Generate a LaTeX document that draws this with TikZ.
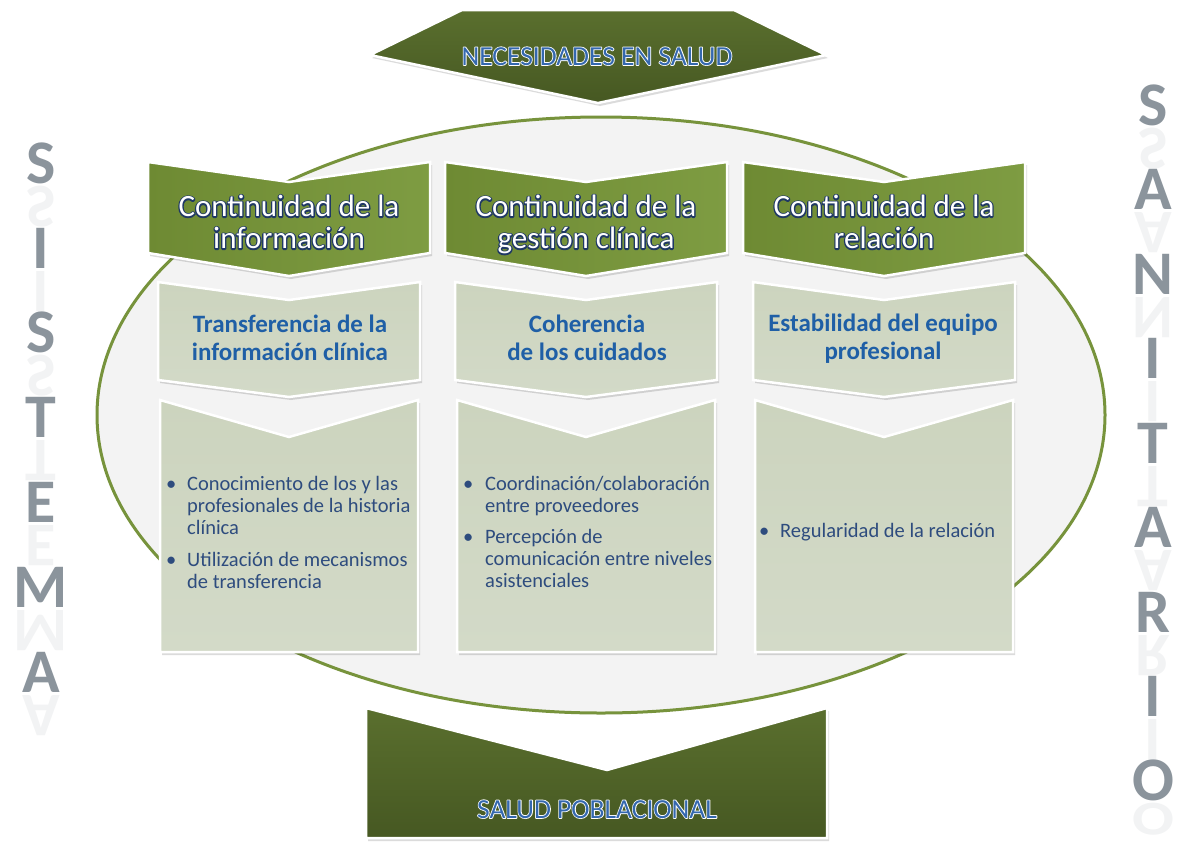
\documentclass[tikz,border=0pt]{standalone}
\usepackage{fontspec}
\setmainfont{Carlito}
\usetikzlibrary{calc}
\definecolor{dkgreen}{HTML}{4F6228}
\definecolor{dkgreenA}{HTML}{5A6F2E}
\definecolor{dkgreenB}{HTML}{465822}
\definecolor{mdgreenA}{HTML}{6E8A33}
\definecolor{mdgreenB}{HTML}{7E9C42}
\definecolor{ellline}{HTML}{77933C}
\definecolor{ellfill}{HTML}{F3F3F3}
\definecolor{sageA}{HTML}{CCD4BE}
\definecolor{sageB}{HTML}{D3DAC8}
\definecolor{navyglow}{HTML}{1F3864}
\definecolor{subblue}{HTML}{1F5FA6}
\definecolor{itemblue}{HTML}{2E4C7E}
\definecolor{arrowblue}{HTML}{3468AE}
\definecolor{lettergray}{HTML}{8B949C}

% stroked (outlined) text: #1 stroke width, #2 text
\newcommand\strokedtext[2]{\special{pdf:literal direct #1 w 1 j 2 Tr}#2\special{pdf:literal direct 0 Tr}}
% #1 name, #2 position, #3 style, #4 outline colour, #5 text, #6 outline width, #7 anchor
\newcommand\glowtxt[7]{%
  \node[#3,text=#4,anchor=#7] at (#2) {\strokedtext{#6}{#5}};%
  \node[#3,anchor=#7] (#1) at (#2) {#5};%
}
% #1 name, #2 baseline position, #3 letter, #4 reflection scale
\newcommand\bigletter[4]{%
  \node[letterstyle,anchor=base] (#1) at (#2) {#3};%
  \node[letterstyle,anchor=base,text opacity=0.11] at ($(#2)+(0,3)$) {\scalebox{1}[#4]{#3}};%
}
\newcommand\hstrut{\rule{0pt}{21pt}}

\tikzset{
  hdr/.style={font=\fontsize{31}{32}\selectfont, text=white, inner sep=0pt, align=center},
  arrtxt/.style={font=\fontsize{27.5}{28}\selectfont, text=arrowblue, inner sep=0pt},
  subtxt/.style={font=\bfseries\fontsize{25}{28}\selectfont, text=subblue, inner sep=0pt, anchor=base, text height=18pt, text depth=5pt},
  itemtxt/.style={font=\fontsize{20.5}{22}\selectfont, text=itemblue, inner sep=0pt, anchor=base west, text height=14pt, text depth=4pt},
  letterstyle/.style={font=\bfseries\fontsize{62}{62}\selectfont, text=lettergray, inner sep=0pt},
  shadowstyle/.style={fill=black, opacity=0.14},
  darkshape/.style={top color=dkgreenA, bottom color=dkgreenB, draw=white, line width=2.5pt},
  midshape/.style={left color=mdgreenA, right color=mdgreenB, draw=white, line width=2.5pt},
  sageshape/.style={top color=sageA, bottom color=sageB, draw=white, line width=2.5pt},
  ellstyle/.style={draw=ellline, line width=3pt, fill=ellfill}
}

\begin{document}
\begin{tikzpicture}[x=1pt,y=-1pt]
\useasboundingbox (0,0) rectangle (1180,841);
\fill[white] (0,0) rectangle (1180,841);

% big ellipse
\draw[ellstyle] (601,415) ellipse [x radius=504pt, y radius=298pt];

% top arrow
\fill[shadowstyle] (372,58) -- (464,13) -- (736,13) -- (828,58) -- (600,106) -- cycle;
\path[darkshape] (370,55) -- (462,10) -- (734,10) -- (826,55) -- (598,103) -- cycle;
\glowtxt{top}{597,65}{arrtxt}{white!55}{NECESIDADES EN SALUD}{1.6}{base}

% bottom arrow
\fill[shadowstyle] (368,711) -- (609,773) -- (829,711) -- (829,841) -- (368,841) -- cycle;
\path[darkshape] (366,708) -- (607,770) -- (827,708) -- (827,838) -- (366,838) -- cycle;
\glowtxt{bottom}{597,818}{arrtxt}{white!55}{SALUD POBLACIONAL}{1.6}{base}

% columns
\foreach \cx in {289,586,884}{
  \begin{scope}[shift={(\cx,0)}]
    % row 1
    \fill[shadowstyle] (-139,165) -- (2,185) -- (143,165) -- (143,256) -- (2,279) -- (-139,256) -- cycle;
    \path[midshape] (-141,162) -- (0,182) -- (141,162) -- (141,253) -- (0,276) -- (-141,253) -- cycle;
    % row 2
    \fill[shadowstyle] (-129,285) -- (2,303) -- (133,285) -- (133,383) -- (2,400) -- (-129,383) -- cycle;
    \path[sageshape] (-131,282) -- (0,300) -- (131,282) -- (131,380) -- (0,397) -- (-131,380) -- cycle;
    % row 3
    \fill[shadowstyle] (-127,403) -- (2,440) -- (131,403) -- (131,655) -- (-127,655) -- cycle;
    \path[sageshape] (-129,400) -- (0,437) -- (129,400) -- (129,652) -- (-129,652) -- cycle;
  \end{scope}
}

% header texts (first baseline at y = 216, second at 248)
\glowtxt{h1}{289,195}{hdr}{navyglow}{\hstrut Continuidad de la\\información}{2.6}{north}
\glowtxt{h2}{586,195}{hdr}{navyglow}{\hstrut Continuidad de la\\gestión clínica}{2.6}{north}
\glowtxt{h3}{884,195}{hdr}{navyglow}{\hstrut Continuidad de la\\relación}{2.6}{north}

% second-row texts
\node[subtxt] (s1a) at (290,332) {Transferencia de la};
\node[subtxt] (s1b) at (290,360) {información clínica};
\node[subtxt] (s2a) at (587,332) {Coherencia};
\node[subtxt] (s2b) at (587,360) {de los cuidados};
\node[subtxt] (s3a) at (883,331) {Estabilidad del equipo};
\node[subtxt] (s3b) at (883,359) {profesional};

% third-row items
\node[itemtxt] (b1) at (166,490) {•};
\node[itemtxt] (t1a) at (187,490) {Conocimiento de los y las};
\node[itemtxt] (t1b) at (187,512) {profesionales de la historia};
\node[itemtxt] (t1c) at (187,534) {clínica};
\node[itemtxt] (b2) at (166,566) {•};
\node[itemtxt] (t2a) at (187,566) {Utilización de mecanismos};
\node[itemtxt] (t2b) at (187,588) {de transferencia};

\node[itemtxt] (b3) at (463,490) {•};
\node[itemtxt] (t3a) at (485,490) {Coordinación/colaboración};
\node[itemtxt] (t3b) at (485,512) {entre proveedores};
\node[itemtxt] (b4) at (463,543) {•};
\node[itemtxt] (t4a) at (485,543) {Percepción de};
\node[itemtxt] (t4b) at (485,565) {comunicación entre niveles};
\node[itemtxt] (t4c) at (485,587) {asistenciales};

\node[itemtxt] (b5) at (759,537) {•};
\node[itemtxt] (t5a) at (780,537) {Regularidad de la relación};

% SISTEMA
\bigletter{L1}{41,183}{S}{-1}
\bigletter{L2}{41,268}{I}{-1}
\bigletter{L3}{41,352}{S}{-1}
\bigletter{L4}{41,437}{T}{-1}
\bigletter{L5}{41,522}{E}{-1}
\bigletter{L6}{41,607}{M}{-1}
\bigletter{L7}{41,692}{A}{-1}

% SANITARIO
\bigletter{R1}{1153,125}{S}{-1}
\bigletter{R2}{1153,209}{A}{-1}
\bigletter{R3}{1153,294}{N}{-1}
\bigletter{R4}{1153,378}{I}{-1}
\bigletter{R5}{1153,463}{T}{-1}
\bigletter{R6}{1153,547}{A}{-1}
\bigletter{R7}{1153,632}{R}{-1}
\bigletter{R8}{1153,716}{I}{-1}
\bigletter{R9}{1153,800}{O}{-0.78}
\end{tikzpicture}
\end{document}
